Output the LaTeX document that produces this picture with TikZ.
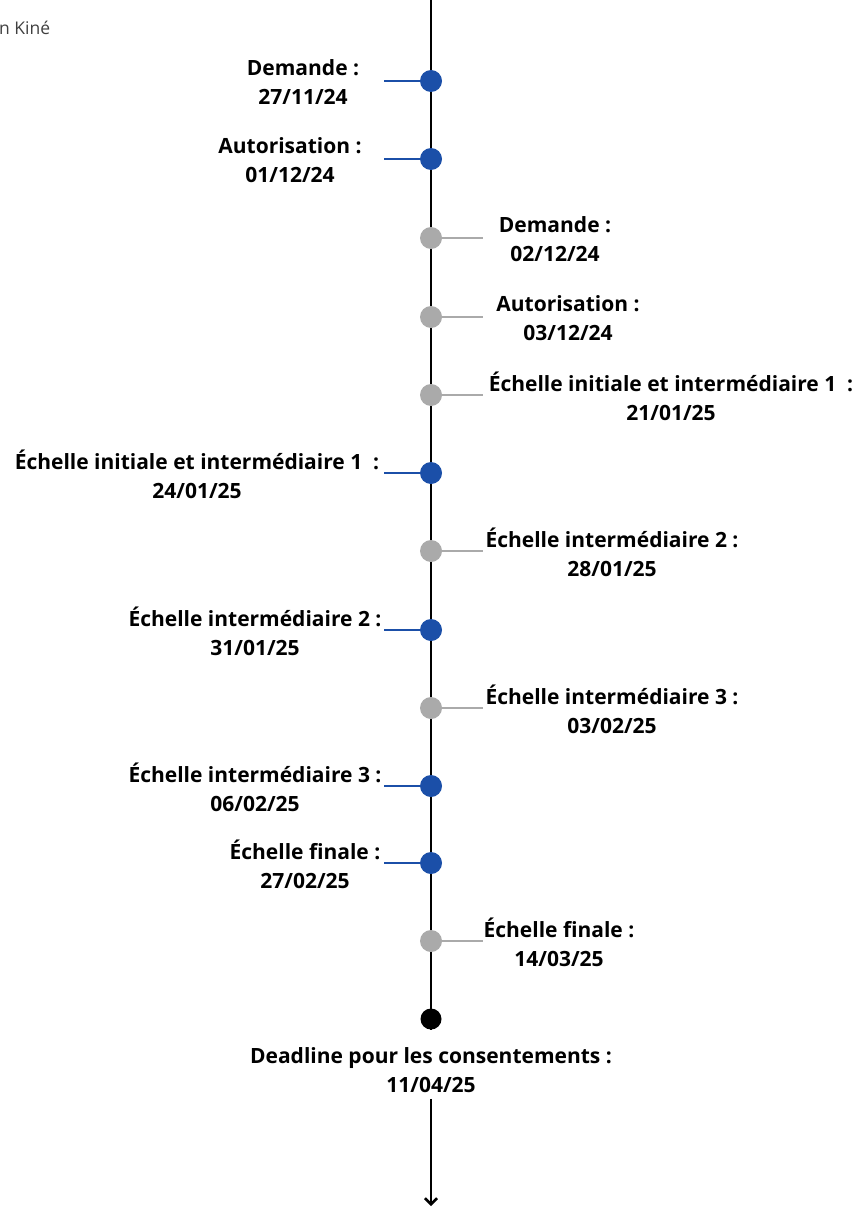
\documentclass[tikz,border=0pt]{standalone}
\usepackage{fontspec}
\setmainfont{Open Sans}
\usetikzlibrary{arrows.meta}

\definecolor{evblue}{RGB}{27,79,168}
\definecolor{evgray}{RGB}{170,170,170}

\begin{document}
\begin{tikzpicture}[x=1pt,y=-1pt,
    dot/.style={circle,fill=#1,inner sep=0pt,minimum size=22pt},
    lab/.style={font=\bfseries\fontsize{21}{29}\selectfont,align=center,inner sep=0pt}]

    \useasboundingbox (0,0) rectangle (861,1209);
    \node[anchor=west,inner sep=0pt,font=\fontsize{17.5}{20}\selectfont,text=black!75] (kine) at (-1,28) {n Kiné};

    % axis
    \coordinate (top) at (431,0);
    \coordinate (bot) at (431,1206);
    \node[dot=black,minimum size=21pt] (dead) at (431,1019) {};
    \node[lab] (deadlab) at (431,1070) {Deadline pour les consentements :\\11/04/25};
    \draw[line width=2.6pt] (top) -- (dead.south);
    \draw[line width=2.6pt,-{Straight Barb[length=6pt,width=12pt]},shorten <=6pt] (deadlab.south) -- (bot);

    % events on the left (blue)
    \foreach \y/\xc/\a/\b [count=\i] in {81/303/{Demande :}/{27/11/24},
                                        159/290/{Autorisation :}/{01/12/24},
                                        473/197/{Échelle initiale et intermédiaire 1\ \ :}/{24/01/25},
                                        630/255/{Échelle intermédiaire 2 :}/{31/01/25},
                                        786/255/{Échelle intermédiaire 3 :}/{06/02/25},
                                        863/305/{Échelle finale :}/{27/02/25}}
    {
        \coordinate (bt\i) at (384,\y);
        \node[dot=evblue] (b\i) at (431,\y) {};
        \draw[evblue,line width=2.2pt] (bt\i) -- (b\i);
        \node[lab] (bl\i) at (\xc,\y+1) {\a\\\b};
    }

    % events on the right (gray)
    \foreach \y/\xc/\a/\b [count=\i] in {238/555/{Demande :}/{02/12/24},
                                        317/568/{Autorisation :}/{03/12/24},
                                        395/671/{Échelle initiale et intermédiaire 1\ \ :}/{21/01/25},
                                        551/612/{Échelle intermédiaire 2 :}/{28/01/25},
                                        708/612/{Échelle intermédiaire 3 :}/{03/02/25},
                                        941/559/{Échelle finale :}/{14/03/25}}
    {
        \coordinate (gt\i) at (483,\y);
        \node[dot=evgray] (g\i) at (431,\y) {};
        \draw[evgray,line width=2.2pt] (g\i) -- (gt\i);
        \node[lab] (gl\i) at (\xc,\y+1) {\a\\\b};
    }
\end{tikzpicture}
\end{document}
